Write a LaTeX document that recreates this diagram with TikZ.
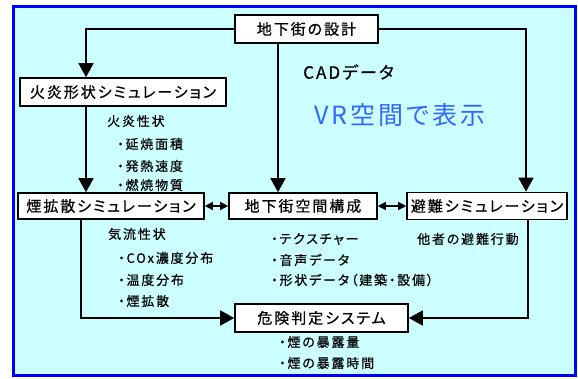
\documentclass[tikz,border=0pt]{standalone}
\usepackage{fontspec}
\usetikzlibrary{arrows.meta}
\newfontfamily\jpbox[RawFeature=+palt,LetterSpace=13,FakeBold=0.6]{Noto Sans CJK JP}
\newfontfamily\jptxt[RawFeature=+palt,LetterSpace=14,FakeBold=0.5]{Noto Sans CJK JP}
\newfontfamily\jpcad[RawFeature=+palt,LetterSpace=12,FakeBold=0.4]{Noto Sans CJK JP}
\newfontfamily\jpvr[RawFeature=+palt,LetterSpace=12]{Noto Sans CJK JP}
\definecolor{bgcyan}{RGB}{204,255,255}
\definecolor{frameblue}{RGB}{0,0,255}
\definecolor{vrblue}{RGB}{51,102,255}
\tikzset{
  boxnode/.style={draw=black,line width=1.6pt,fill=white,inner sep=0pt,font=\jpbox\fontsize{15}{17}\selectfont},
  txt/.style={anchor=west,inner sep=0pt,font=\jptxt\fontsize{13}{15}\selectfont},
  arr/.style={line width=1.6pt,-{Triangle[width=15pt,length=14pt]}},
  darr/.style={line width=1.6pt,{Triangle[width=8pt,length=8pt]}-{Triangle[width=8pt,length=8pt]}},
  ln/.style={line width=1.6pt}
}
\begin{document}
\begin{tikzpicture}[x=1pt,y=-1pt]
\useasboundingbox (0,0) rectangle (578,378);
\draw[frameblue,line width=3pt,fill=bgcyan] (13.5,6.5) rectangle (575.5,375.5);

\node[boxnode,minimum width=143pt,minimum height=28pt] (top) at (306.5,29) {地下街の設計};
\node[boxnode,minimum width=206pt,minimum height=28pt] (fire) at (123,92) {火炎形状シミュレーション};
\node[boxnode,minimum width=186pt,minimum height=26pt] (smoke) at (111,206) {煙拡散シミュレーション};
\node[boxnode,minimum width=148pt,minimum height=26pt] (space) at (303,206) {地下街空間構成};
\node[boxnode,minimum width=160pt,minimum height=27pt] (evac) at (487,206) {避難シミュレーション};
\node[boxnode,minimum width=173pt,minimum height=28pt] (danger) at (321.5,318) {危険判定システム};

\draw[arr] (top.west) -| ([xshift=-37]fire.north);
\draw[arr] ([xshift=-37]fire.south) -- ([xshift=-37]fire.south |- smoke.north);
\draw[arr] ([xshift=-28.5]top.south) -- ([xshift=-28.5]top.south |- space.north);
\draw[arr] (top.east) -| ([xshift=39]evac.north);
\draw[darr] (smoke.east) -- (space.west);
\draw[darr] (space.east) -- (evac.west);
\draw[arr] ([xshift=-30]smoke.south) |- (danger.west);
\draw[arr] ([xshift=41]evac.south) |- (danger.east);

\node[txt] (t1) at (107,121) {火炎性状};
\node[txt] (t2) at (117,144) {・延焼面積};
\node[txt] (t3) at (117,166) {・発熱速度};
\node[txt] (t4) at (117,185) {・燃焼物質};
\node[anchor=west,inner sep=0pt,font=\jpcad\fontsize{17}{19}\selectfont] (cad) at (303,72) {CADデータ};
\node[anchor=west,inner sep=0pt,text=vrblue,font=\jpvr\fontsize{25}{29}\selectfont] (vr) at (314,115) {VR空間で表示};
\node[txt] (t5) at (108,234) {気流性状};
\node[txt] (t6) at (118,258) {・COx濃度分布};
\node[txt] (t7) at (118,280) {・温度分布};
\node[txt] (t8) at (118,301) {・煙拡散};
\node[txt] (t9) at (271,239) {・テクスチャー};
\node[txt] (t10) at (271,260) {・音声データ};
\node[txt] (t11) at (271,280) {・形状データ（建築・設備）};
\node[txt] (t12) at (417,239) {他者の避難行動};
\node[txt] (t13) at (279,342) {・煙の暴露量};
\node[txt] (t14) at (279,363) {・煙の暴露時間};
\end{tikzpicture}
\end{document}
